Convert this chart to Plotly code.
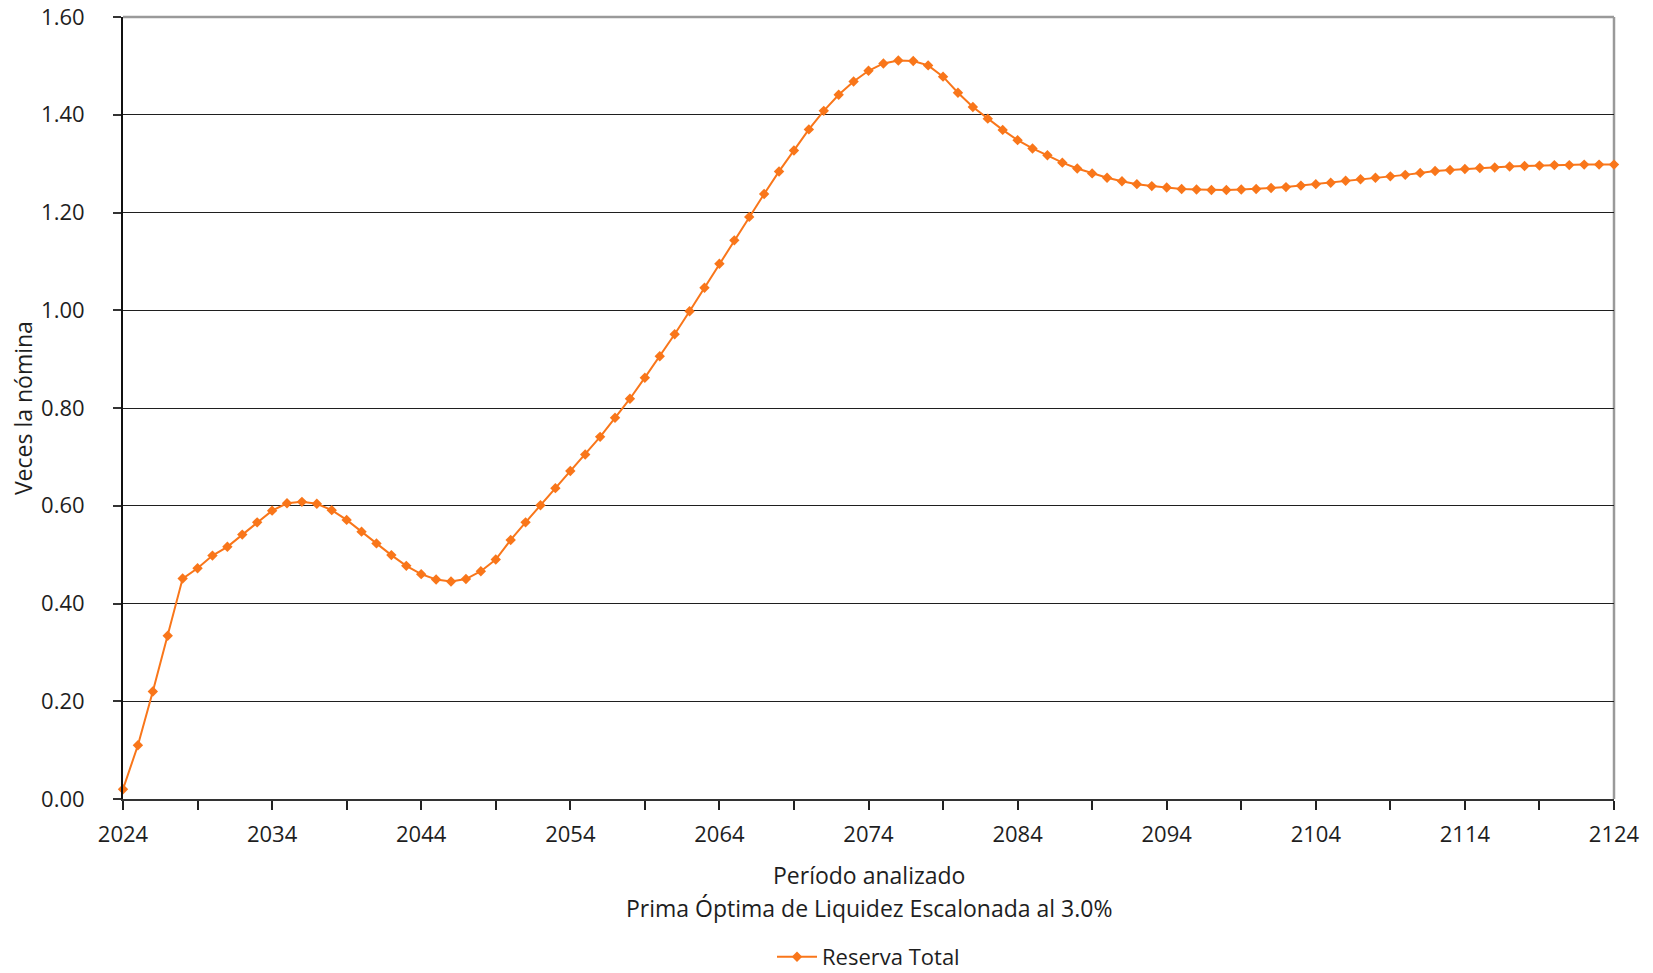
import plotly.graph_objects as go

years = list(range(2024, 2125))
reserva_total = [
    0.02, 0.11, 0.22, 0.334, 0.451, 0.472, 0.498, 0.516, 0.541, 0.566,
    0.590, 0.605, 0.608, 0.604, 0.591, 0.571, 0.547, 0.523, 0.499, 0.477,
    0.460, 0.449, 0.445, 0.450, 0.466, 0.490, 0.530, 0.566, 0.601, 0.636,
    0.671, 0.705, 0.741, 0.780, 0.819, 0.862, 0.906, 0.951, 0.998, 1.046,
    1.095, 1.143, 1.191, 1.238, 1.284, 1.327, 1.370, 1.408, 1.441, 1.468,
    1.490, 1.505, 1.511, 1.510, 1.501, 1.478, 1.445, 1.416, 1.392, 1.369,
    1.348, 1.331, 1.317, 1.302, 1.290, 1.280, 1.271, 1.264, 1.258, 1.254,
    1.251, 1.248, 1.247, 1.246, 1.246, 1.247, 1.248, 1.250, 1.252, 1.255,
    1.258, 1.261, 1.265, 1.268, 1.271, 1.274, 1.277, 1.281, 1.285, 1.287,
    1.289, 1.291, 1.292, 1.294, 1.295, 1.296, 1.297, 1.297, 1.298, 1.298,
    1.298,
]
x_tick_vals = [2024, 2034, 2044, 2054, 2064, 2074, 2084, 2094, 2104, 2114, 2124]
x_tick_text = ["2024", "2034", "2044", "2054", "2064", "2074", "2084", "2094", "2104", "2114", "2124"]
y_tick_vals = [0.0, 0.2, 0.4, 0.6, 0.8, 1.0, 1.2, 1.4, 1.6]
y_tick_text = ["0.00", "0.20", "0.40", "0.60", "0.80", "1.00", "1.20", "1.40", "1.60"]

series_name = "Reserva Total"
x_title = "Período analizado"
subtitle = "Prima Óptima de Liquidez Escalonada al 3.0%"
y_title = "Veces la nómina"

FONT = "Open Sans"
ORANGE = "#F9761A"
TXT = "#1e1e1e"

fig = go.Figure()
fig.add_trace(go.Scatter(
    x=years, y=reserva_total, name=series_name, mode="lines+markers",
    line=dict(color=ORANGE, width=2),
    marker=dict(symbol="diamond", size=8, color=ORANGE),
    cliponaxis=False,
))

fig.update_layout(
    width=1653, height=973,
    paper_bgcolor="white", plot_bgcolor="white",
    margin=dict(l=123, r=39, t=17, b=174, autoexpand=False),
    font=dict(family=FONT, size=22, color=TXT),
    showlegend=True,
    legend=dict(orientation="h", x=0.5, xanchor="center", y=-0.202, yanchor="middle",
                font=dict(size=22, color=TXT), itemwidth=40),
    xaxis=dict(
        range=[2024, 2124], tickmode="array", tickvals=x_tick_vals, ticktext=x_tick_text,
        ticks="outside", ticklen=9, tickwidth=1.5, tickcolor="#222222",
        minor=dict(tickmode="linear", tick0=2024, dtick=5, ticks="outside", ticklen=9,
                   tickwidth=1.5, tickcolor="#222222", showgrid=False),
        showgrid=False, zeroline=False,
        showline=True, linecolor="#333333", linewidth=2, mirror=False,
        tickfont=dict(size=22, color=TXT),
        ticklabelstandoff=6, ticklabeloverflow="allow",
    ),
    yaxis=dict(
        range=[0, 1.6], tickmode="array", tickvals=y_tick_vals, ticktext=y_tick_text,
        ticks="outside", ticklen=8, tickwidth=1.5, tickcolor="#333333",
        showgrid=True, gridcolor="#1f1f1f", gridwidth=1.2,
        zeroline=False, showline=True, linecolor="#111111", linewidth=2,
        tickfont=dict(size=22, color=TXT),
        ticklabelstandoff=24, ticklabeloverflow="allow",
    ),
    annotations=[
        dict(text=x_title, xref="paper", yref="paper", x=0.5, y=-0.097, xanchor="center",
             yanchor="middle", showarrow=False, font=dict(size=23, color=TXT)),
        dict(text=subtitle, xref="paper", yref="paper", x=0.5, y=-0.139, xanchor="center",
             yanchor="middle", showarrow=False, font=dict(size=23, color=TXT)),
        dict(text=y_title, xref="paper", yref="paper", x=-0.067, y=0.5, xanchor="center",
             yanchor="middle", textangle=-90, showarrow=False,
             font=dict(size=23, color=TXT)),
    ],
    shapes=[
        dict(type="line", xref="paper", yref="paper", x0=0, x1=1, y0=1, y1=1,
             line=dict(color="#9a9a9a", width=2.5), layer="below"),
        dict(type="line", xref="paper", yref="paper", x0=1, x1=1, y0=0, y1=1,
             line=dict(color="#9a9a9a", width=2.5), layer="below"),
    ],
)

fig.write_html("out.html", config={"displayModeBar": False},
               post_script="document.body.style.margin='0px';")
